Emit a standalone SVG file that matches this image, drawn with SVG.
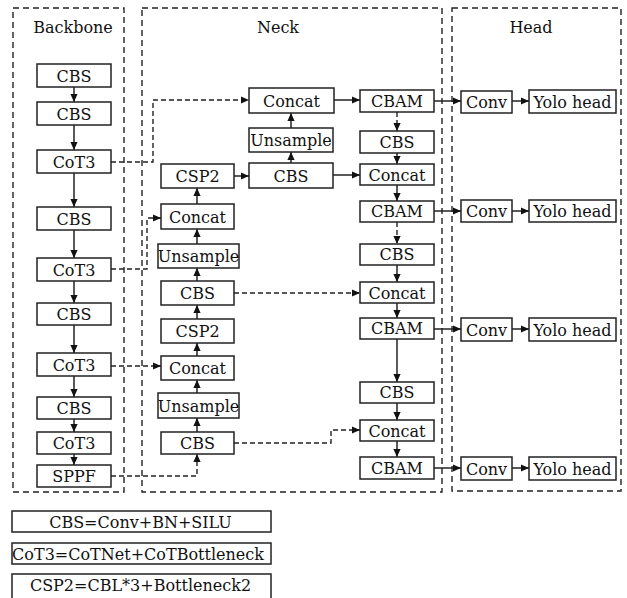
<svg xmlns="http://www.w3.org/2000/svg" width="627" height="598" viewBox="0 0 627 598">
<style>
.bg{fill:#fff}
.frame{fill:none;stroke:#222;stroke-width:1.4;stroke-dasharray:6,4}
.box{fill:#fff;stroke:#222;stroke-width:1.5}
.t{font-family:DejaVu Serif,serif;font-size:16px;fill:#111;text-anchor:middle}
.c{fill:none;stroke:#222;stroke-width:1.5;marker-end:url(#ah)}
.d{fill:none;stroke:#222;stroke-width:1.4;stroke-dasharray:5,3;marker-end:url(#ah)}
</style>
<defs>
<marker id="ah" viewBox="0 0 10 10" refX="10" refY="5" markerWidth="9" markerHeight="8" orient="auto" markerUnits="userSpaceOnUse"><path d="M0,0.5 L10,5 L0,9.5 z" fill="#111"/></marker>
</defs>
<rect class="bg" x="0" y="0" width="627" height="598"/>

<g id="frames">
<rect class="frame" x="13" y="8" width="111" height="484"/>
<rect class="frame" x="142" y="8" width="300" height="484"/>
<rect class="frame" x="452" y="8" width="169" height="483"/>
<text class="t" x="73" y="33">Backbone</text>
<text class="t" x="278" y="33">Neck</text>
<text class="t" x="531" y="33">Head</text>
</g>

<g id="connectors">
<path class="c" d="M74,87 V102"/>
<path class="c" d="M74,125 V150"/>
<path class="c" d="M74,173 V207"/>
<path class="c" d="M74,230 V258"/>
<path class="c" d="M74,281 V303"/>
<path class="c" d="M74,325 V353"/>
<path class="c" d="M74,376 V397"/>
<path class="c" d="M74,419 V432"/>
<path class="c" d="M74,454 V465"/>
<path class="d" d="M111,162 H153 V100 H249"/>
<path class="d" d="M111,269 H147 V218 H161"/>
<path class="d" d="M111,366 H161"/>
<path class="d" d="M111,476 H197 V454"/>
<path class="c" d="M197,432 V418"/>
<path class="c" d="M197,393 V380"/>
<path class="c" d="M197,356 V343"/>
<path class="c" d="M197,319 V305"/>
<path class="c" d="M197,281 V268"/>
<path class="c" d="M197,244 V229"/>
<path class="c" d="M197,204 V188"/>
<path class="c" d="M234,176 H249"/>
<path class="c" d="M291,163 V152"/>
<path class="c" d="M291,128 V113"/>
<path class="c" d="M334,100 H360"/>
<path class="c" d="M333,175 H360"/>
<path class="d" d="M234,293 H360"/>
<path class="d" d="M234,443 H331 V430 H360"/>
<path class="d" d="M397,112 V131"/>
<path class="c" d="M397,153 V164"/>
<path class="c" d="M397,185 V201"/>
<path class="d" d="M397,222 V244"/>
<path class="c" d="M397,265 V282"/>
<path class="c" d="M397,303 V318"/>
<path class="c" d="M397,339 V382"/>
<path class="c" d="M397,403 V420"/>
<path class="c" d="M397,441 V457"/>
<path class="c" d="M434,101 H461"/>
<path class="c" d="M512,101 H529"/>
<path class="c" d="M434,211 H461"/>
<path class="c" d="M512,211 H529"/>
<path class="c" d="M434,329 H461"/>
<path class="c" d="M512,329 H529"/>
<path class="c" d="M434,468 H461"/>
<path class="c" d="M512,468 H529"/>
</g>

<g id="b1"><rect class="box" x="37" y="64" width="74" height="23"/><text class="t" x="74" y="82">CBS</text></g>
<g id="b2"><rect class="box" x="37" y="102" width="74" height="23"/><text class="t" x="74" y="120">CBS</text></g>
<g id="b3"><rect class="box" x="37" y="150" width="74" height="23"/><text class="t" x="74" y="168">CoT3</text></g>
<g id="b4"><rect class="box" x="37" y="207" width="74" height="23"/><text class="t" x="74" y="225">CBS</text></g>
<g id="b5"><rect class="box" x="37" y="258" width="74" height="23"/><text class="t" x="74" y="276">CoT3</text></g>
<g id="b6"><rect class="box" x="37" y="303" width="74" height="22"/><text class="t" x="74" y="320">CBS</text></g>
<g id="b7"><rect class="box" x="37" y="353" width="74" height="23"/><text class="t" x="74" y="371">CoT3</text></g>
<g id="b8"><rect class="box" x="37" y="397" width="74" height="22"/><text class="t" x="74" y="414">CBS</text></g>
<g id="b9"><rect class="box" x="37" y="432" width="74" height="22"/><text class="t" x="74" y="449">CoT3</text></g>
<g id="b10"><rect class="box" x="37" y="465" width="74" height="22"/><text class="t" x="74" y="482">SPPF</text></g>

<g id="n_csp2a"><rect class="box" x="161" y="164" width="73" height="24"/><text class="t" x="197.5" y="182">CSP2</text></g>
<g id="n_concat1"><rect class="box" x="161" y="204" width="73" height="25"/><text class="t" x="197.5" y="223">Concat</text></g>
<g id="n_ups1"><rect class="box" x="158" y="244" width="81" height="24"/><text class="t" x="198.5" y="262">Unsample</text></g>
<g id="n_cbs1"><rect class="box" x="161" y="281" width="73" height="24"/><text class="t" x="197.5" y="299">CBS</text></g>
<g id="n_csp2b"><rect class="box" x="161" y="319" width="73" height="24"/><text class="t" x="197.5" y="337">CSP2</text></g>
<g id="n_concat2"><rect class="box" x="161" y="356" width="73" height="24"/><text class="t" x="197.5" y="374">Concat</text></g>
<g id="n_ups2"><rect class="box" x="158" y="393" width="81" height="25"/><text class="t" x="198.5" y="412">Unsample</text></g>
<g id="n_cbs2"><rect class="box" x="161" y="432" width="73" height="22"/><text class="t" x="197.5" y="449">CBS</text></g>

<g id="n_concat0"><rect class="box" x="249" y="88" width="85" height="25"/><text class="t" x="291.5" y="107">Concat</text></g>
<g id="n_ups0"><rect class="box" x="249" y="128" width="84" height="24"/><text class="t" x="291" y="146">Unsample</text></g>
<g id="n_cbs0"><rect class="box" x="249" y="163" width="84" height="25"/><text class="t" x="291" y="182">CBS</text></g>

<g id="r_cbam1"><rect class="box" x="360" y="90" width="74" height="22"/><text class="t" x="397" y="107">CBAM</text></g>
<g id="r_cbs1"><rect class="box" x="360" y="131" width="74" height="22"/><text class="t" x="397" y="148">CBS</text></g>
<g id="r_concat1"><rect class="box" x="360" y="164" width="74" height="21"/><text class="t" x="397" y="181">Concat</text></g>
<g id="r_cbam2"><rect class="box" x="360" y="201" width="74" height="21"/><text class="t" x="397" y="217">CBAM</text></g>
<g id="r_cbs2"><rect class="box" x="360" y="244" width="74" height="21"/><text class="t" x="397" y="260">CBS</text></g>
<g id="r_concat2"><rect class="box" x="360" y="282" width="74" height="21"/><text class="t" x="397" y="299">Concat</text></g>
<g id="r_cbam3"><rect class="box" x="360" y="318" width="74" height="21"/><text class="t" x="397" y="334">CBAM</text></g>
<g id="r_cbs3"><rect class="box" x="360" y="382" width="74" height="21"/><text class="t" x="397" y="398">CBS</text></g>
<g id="r_concat3"><rect class="box" x="360" y="420" width="74" height="21"/><text class="t" x="397" y="437">Concat</text></g>
<g id="r_cbam4"><rect class="box" x="360" y="457" width="74" height="22"/><text class="t" x="397" y="474">CBAM</text></g>

<g id="h_conv1"><rect class="box" x="461" y="91" width="51" height="22"/><text class="t" x="486.5" y="108">Conv</text></g>
<g id="h_yolo1"><rect class="box" x="529" y="90" width="87" height="23"/><text class="t" x="572.5" y="108">Yolo head</text></g>
<g id="h_conv2"><rect class="box" x="461" y="200" width="51" height="22"/><text class="t" x="486.5" y="217">Conv</text></g>
<g id="h_yolo2"><rect class="box" x="529" y="200" width="87" height="22"/><text class="t" x="572.5" y="217">Yolo head</text></g>
<g id="h_conv3"><rect class="box" x="461" y="318" width="51" height="23"/><text class="t" x="486.5" y="336">Conv</text></g>
<g id="h_yolo3"><rect class="box" x="529" y="318" width="87" height="23"/><text class="t" x="572.5" y="336">Yolo head</text></g>
<g id="h_conv4"><rect class="box" x="461" y="457" width="51" height="23"/><text class="t" x="486.5" y="475">Conv</text></g>
<g id="h_yolo4"><rect class="box" x="529" y="457" width="87" height="23"/><text class="t" x="572.5" y="475">Yolo head</text></g>

<g id="legend">
<rect class="box" x="12" y="511" width="259" height="21"/><text class="t" x="140.5" y="528">CBS=Conv+BN+SILU</text>
<rect class="box" x="12" y="543" width="259" height="21"/><text class="t" x="138" y="560">CoT3=CoTNet+CoTBottleneck</text>
<rect class="box" x="12" y="574" width="259" height="30"/><text class="t" x="140.5" y="591">CSP2=CBL*3+Bottleneck2</text>
</g>
</svg>
